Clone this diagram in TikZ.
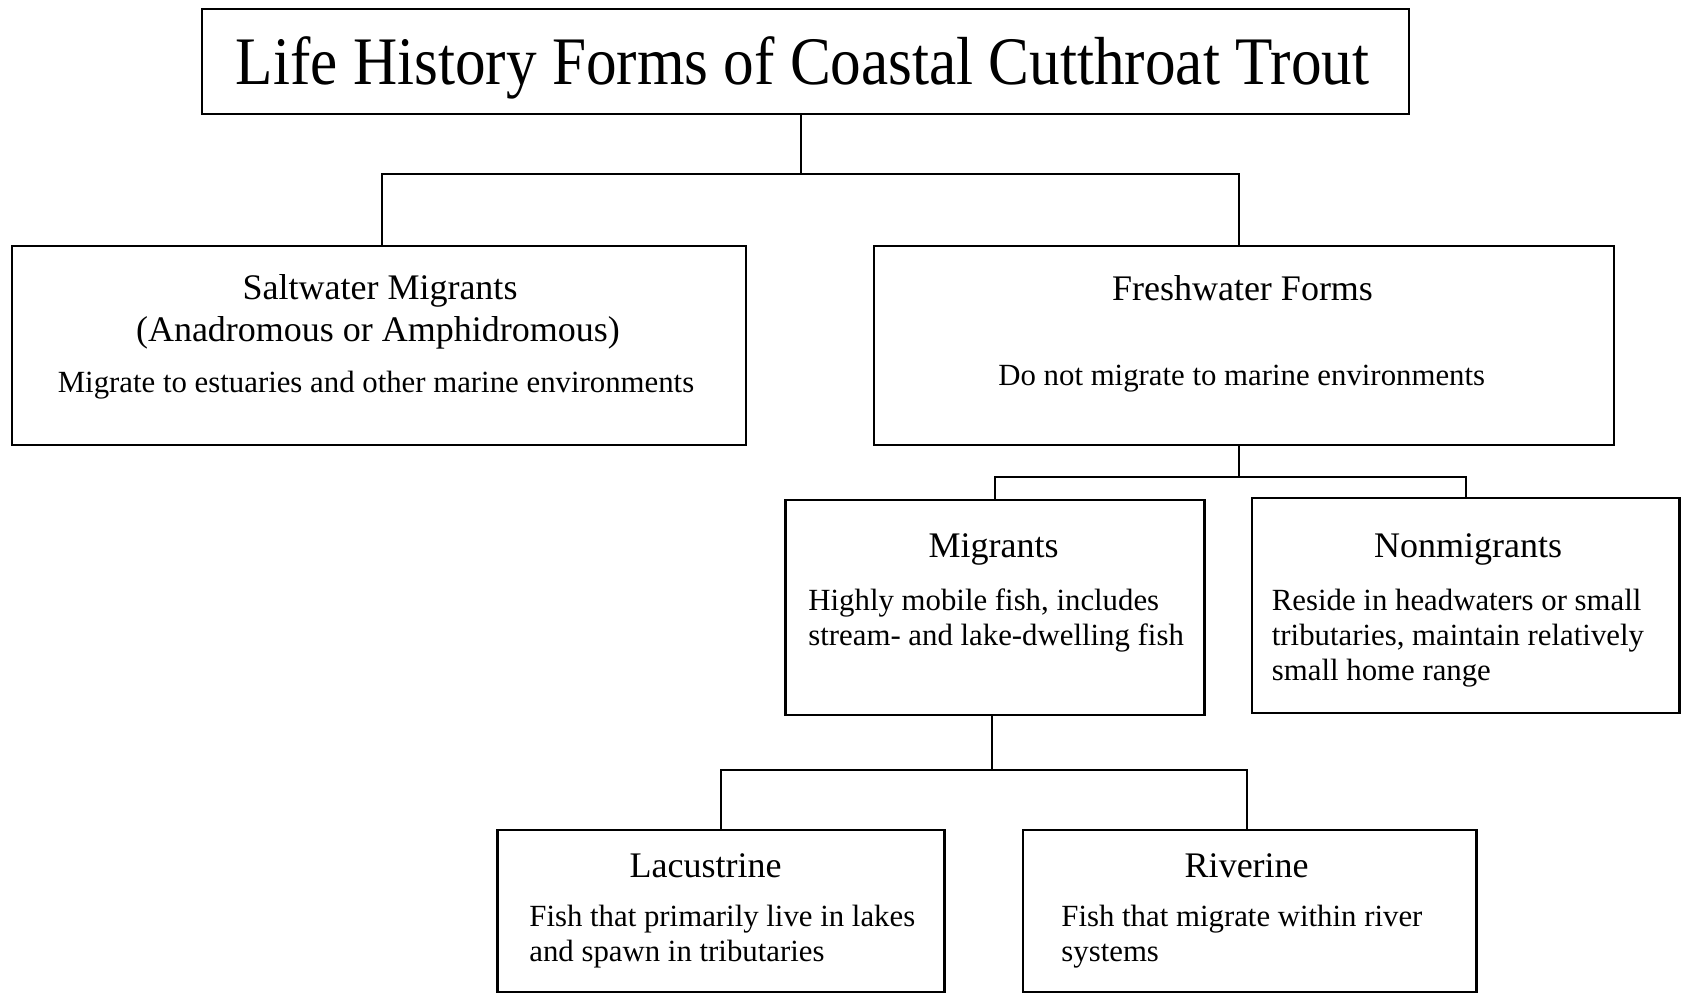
\documentclass[tikz,border=0pt]{standalone}
\usepackage{fontspec}
\setmainfont{Liberation Serif}
\newfontfamily\titlefont[FakeStretch=0.9]{Liberation Serif}
\usepackage{tikz}

\tikzset{
	box/.style={draw, line width=1.3pt, inner sep=0pt},
	link/.style={line width=1pt},
	heading/.style={inner sep=0pt, font=\fontsize{18}{21}\selectfont},
	body/.style={inner sep=0pt, font=\fontsize{15.4}{18}\selectfont}
}

\begin{document}
\begin{tikzpicture}[x=0.5pt, y=-0.5pt]
	%\draw [help lines] (0,0) grid (1685,994);
	\useasboundingbox (0,0) rectangle (1685,994);

	% boxes
	\node [box, minimum width=603.5pt, minimum height=52.6pt] (title) at (805.5,61.5) {};
	\node [box, minimum width=367pt, minimum height=99.5pt] (salt) at (378.8,345.5) {};
	\node [box, minimum width=370pt, minimum height=99.5pt] (fresh) at (1243.8,345.5) {};
	\node [box, minimum width=209.5pt, minimum height=107.5pt] (mig) at (995,607.5) {};
	\node [box, minimum width=213.8pt, minimum height=107.5pt] (nonmig) at (1465.8,605.5) {};
	\node [box, minimum width=223.5pt, minimum height=81pt] (lac) at (721,911) {};
	\node [box, minimum width=226.8pt, minimum height=81pt] (riv) at (1249.8,911) {};

	% texts
	\node [inner sep=0pt, anchor=base, font=\titlefont\fontsize{34}{40}\selectfont] (title-t) at (802.5,85) {Life History Forms of Coastal Cutthroat Trout};

	\node [heading, anchor=base] (salt-h1) at (380,300) {Saltwater Migrants};
	\node [heading, anchor=base] (salt-h2) at (378,342) {(Anadromous or Amphidromous)};
	\node [body, anchor=base] (salt-b) at (376,393) {Migrate to estuaries and other marine environments};

	\node [heading, anchor=base] (fresh-h) at (1242.5,300.7) {Freshwater Forms};
	\node [body, anchor=base] (fresh-b) at (1241.7,386) {Do not migrate to marine environments};

	\node [heading, anchor=base] (mig-h) at (993.5,557) {Migrants};
	\node [body, anchor=base west] (mig-b1) at (808,610) {Highly mobile fish, includes};
	\node [body, anchor=base west] (mig-b2) at (808,645) {stream- and lake-dwelling fish};

	\node [heading, anchor=base] (nonmig-h) at (1468,557) {Nonmigrants};
	\node [body, anchor=base west] (nonmig-b1) at (1271.5,610) {Reside in headwaters or small};
	\node [body, anchor=base west] (nonmig-b2) at (1271.5,645) {tributaries, maintain relatively};
	\node [body, anchor=base west] (nonmig-b3) at (1271.5,680) {small home range};

	\node [heading, anchor=base] (lac-h) at (705.5,877) {Lacustrine};
	\node [body, anchor=base west] (lac-b1) at (529,926) {Fish that primarily live in lakes};
	\node [body, anchor=base west] (lac-b2) at (529,961) {and spawn in tributaries};

	\node [heading, anchor=base] (riv-h) at (1246.7,877) {Riverine};
	\node [body, anchor=base west] (riv-b1) at (1061,926) {Fish that migrate within river};
	\node [body, anchor=base west] (riv-b2) at (1061,961) {systems};

	% connectors
	\coordinate (j1) at (800.6,174);
	\coordinate (j2) at (1239,477);
	\coordinate (j3) at (992,770);
	\draw [link] (title.south -| j1) -- (j1);
	\draw [link] ([xshift=1.35pt]salt.north) |- (j1) -| ([xshift=-2.4pt]fresh.north);
	\draw [link] (fresh.south -| j2) -- (j2);
	\draw [link] (mig.north) |- (j2) -| (nonmig.north);
	\draw [link] (mig.south -| j3) -- (j3);
	\draw [link] (lac.north) |- (j3) -| ([xshift=-1.6pt]riv.north);
\end{tikzpicture}
\end{document}
